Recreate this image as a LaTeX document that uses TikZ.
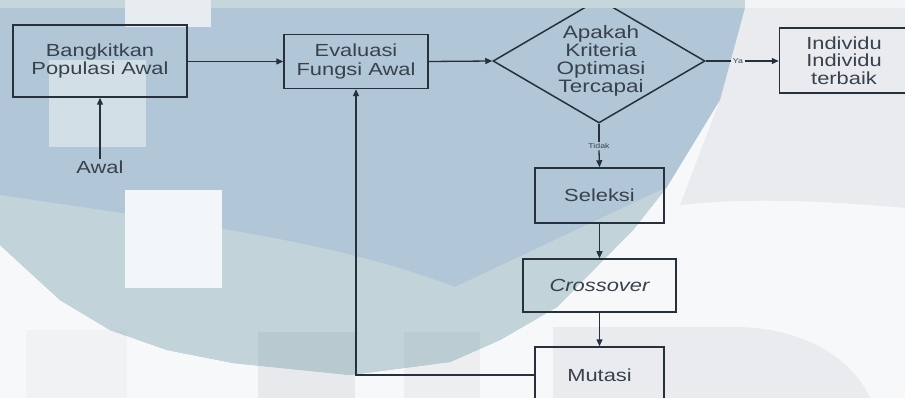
\documentclass[tikz,border=0pt]{standalone}
\usepackage{fontspec}
\setmainfont[FakeStretch=1.25]{Liberation Sans}
\usetikzlibrary{shapes.geometric,arrows.meta}

\definecolor{ink}{HTML}{26313B}
\definecolor{txt}{HTML}{38424C}
\definecolor{paper}{HTML}{F7F8FA}
\definecolor{wmblue}{HTML}{B1C6D6}
\definecolor{wmteal}{HTML}{C2D3D9}
\definecolor{wmband}{HTML}{C7D6DB}
\definecolor{wmgrey}{HTML}{E9EBEF}
\definecolor{wmpale}{HTML}{D3DFE6}
\definecolor{wmwhite}{HTML}{E6ECEF}
\definecolor{wmsnow}{HTML}{F3F6F8}
\definecolor{wmshadow}{HTML}{7F8A95}
\definecolor{wmedge}{HTML}{F2F4F6}

\tikzset{
  box/.style={draw=ink, line width=1.5pt, inner sep=0pt, text=txt,
    align=center, font=\fontsize{17.5pt}{18.5pt}\selectfont},
  plain/.style={inner sep=1pt, text=txt, align=center,
    font=\fontsize{17.5pt}{18pt}\selectfont},
  tiny/.style={inner sep=1.5pt, text=txt, font=\fontsize{7pt}{8pt}\selectfont},
  link/.style={draw=ink, line width=1.3pt},
  arr/.style={link, -{Triangle[length=7pt,width=6pt]}},
}

\begin{document}
\begin{tikzpicture}[x=1pt,y=-1pt]
\useasboundingbox (0,0) rectangle (905,398);
\clip (0,0) rectangle (905,398);

% --- background watermark ---
\fill[paper] (0,0) rectangle (905,398);
\fill[wmgrey] (745,8) -- (905,8) -- (905,208) .. controls (820,200) and (740,198) .. (680,205) -- (720,100) -- cycle;
\fill[wmgrey] (553,327) -- (740,327) .. controls (815,330) and (855,365) .. (870,398) -- (553,398) -- cycle;
% upper blue field
\fill[wmblue]
  (0,8) -- (745,8) -- (720,100) -- (667,187) -- (633,230) -- (557,307) -- (500,340)
  -- (450,362) -- (350,375) -- (233,363) -- (167,350) -- (110,330) -- (60,300) -- (0,245) -- cycle;
% lower teal band of the field
\fill[wmteal]
  (0,195) .. controls (200,225) and (330,240) .. (455,287) -- (667,187) -- (633,230) -- (557,307) -- (500,340)
  -- (450,362) -- (350,375) -- (233,363) -- (167,350) -- (110,330) -- (60,300) -- (0,245) -- cycle;
\fill[wmpale] (49,60) rectangle (146,147);
\fill[wmwhite] (125,0) rectangle (211,27);
\fill[wmsnow] (125,190) rectangle (222,288);
\fill[wmshadow, opacity=0.05] (26,330) rectangle (127,398);
\fill[wmshadow, opacity=0.13] (258,332) rectangle (355,398);
\fill[wmshadow, opacity=0.09] (404,332) rectangle (480,398);

% --- flowchart ---
\node[box, minimum width=174pt, minimum height=72pt] (init) at (100,61) {Bangkitkan\\Populasi Awal};
\node[plain] (start) at (100,167) {Awal};
\node[box, minimum width=144pt, minimum height=54pt] (eval) at (356,61.5) {Evaluasi\\Fungsi Awal};
\node[draw=ink, line width=1.5pt, diamond, minimum width=212pt, minimum height=124pt, inner sep=0pt] (crit) at (599,61) {};
\node[plain, font=\fontsize{18pt}{18pt}\selectfont] (crittext) at (601,61) {Apakah\\Kriteria\\Optimasi\\Tercapai};
\node[tiny] (yes) at (738,61) {Ya};
\node[box, minimum width=129pt, minimum height=65pt, font=\fontsize{17.5pt}{17.5pt}\selectfont] (best) at (844,60.5) {Individu\\Individu\\terbaik};
\node[tiny] (no) at (599,146) {Tidak};
\node[box, minimum width=129pt, minimum height=55pt] (sel) at (599.5,195.5) {Seleksi};
\node[box, minimum width=153pt, minimum height=53pt, font=\fontsize{17.5pt}{18.5pt}\selectfont\itshape] (cross) at (599.5,285.5) {Crossover};
\node[box, minimum width=129pt, minimum height=56pt] (mut) at (599.5,375) {Mutasi};

\draw[arr] (start) -- (init.south);
\draw[arr] (init.east |- eval.west) -- (eval.west);
\draw[arr] (eval.east) -- (crit.west);
\draw[link] (crit.east) -- (yes.west);
\draw[arr] (yes.east) -- (best.west |- yes.east);
\draw[link] (crit.south) -- (no.north);
\draw[arr] (no.south) -- (sel.north);
\draw[arr] (sel.south) -- (cross.north);
\draw[arr] (cross.south) -- (mut.north);
\draw[arr] (mut.west) -| (eval.south);

% light band along the upper edge
\fill[wmband] (0,0) rectangle (745,8);
\fill[wmwhite] (125,0) rectangle (211,8);
\fill[wmedge] (745,0) rectangle (905,8);
\end{tikzpicture}
\end{document}
